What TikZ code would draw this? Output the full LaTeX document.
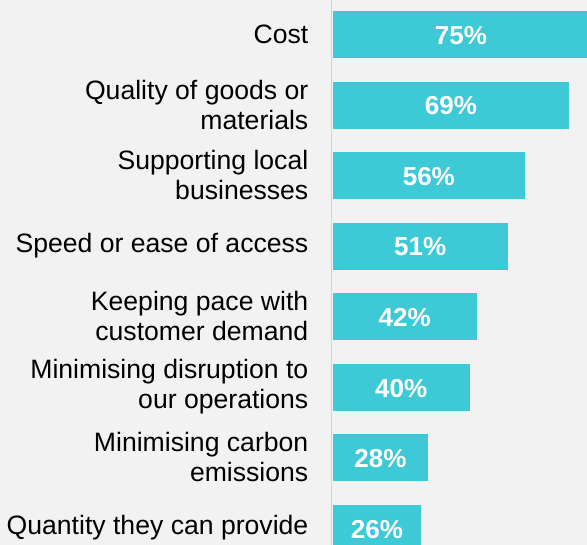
\documentclass[tikz,border=0pt]{standalone}
\usepackage{fontspec}
\setmainfont{Liberation Sans}
\definecolor{bg}{HTML}{F2F2F2}
\definecolor{barc}{RGB}{62,201,214}
\definecolor{axisc}{HTML}{D4D4D4}
\tikzset{
  barbox/.style={fill=barc, draw=none, inner sep=0pt, outer sep=0pt},
  catlabel/.style={anchor=east, align=right, inner sep=0pt, text=black,
    font=\fontsize{26.6}{30}\selectfont},
  vallabel/.style={text=white, inner sep=0pt,
    font=\bfseries\fontsize{26}{30}\selectfont}
}
\begin{document}
\begin{tikzpicture}[x=1pt,y=-1pt]
\useasboundingbox (0,0) rectangle (587,545);
\clip (0,0) rectangle (587,545);
\fill[bg] (0,0) rectangle (587,545);
\coordinate (axtop) at (331.5,0);
\coordinate (axbot) at (331.5,545);
\draw[axisc, line width=1.8pt] (axtop) -- (axbot);
\foreach \i/\r/\v/\lab in {
  0/589.2/75\%/Cost,
  1/569.3/69\%/{Quality of goods or\\materials},
  2/525.0/56\%/{Supporting local\\businesses},
  3/507.7/51\%/{Speed or ease of access},
  4/476.7/42\%/{Keeping pace with\\customer demand},
  5/469.7/40\%/{Minimising disruption to\\our operations},
  6/428.3/28\%/{Minimising carbon\\emissions},
  7/421.3/26\%/{Quantity they can provide}}{
  \pgfmathsetmacro{\t}{11+70.57*\i}
  \pgfmathsetmacro{\b}{\t+47}
  \pgfmathsetmacro{\c}{\t+23.5}
  \fill[barbox] (332.7,\t) rectangle (\r,\b);
  \node[vallabel] (v\i) at ({(332.7+\r)/2},{\c+0.8}) {\v};
  \node[catlabel] (l\i) at (308.5,{\c-0.5}) {\lab};
}
\end{tikzpicture}
\end{document}
